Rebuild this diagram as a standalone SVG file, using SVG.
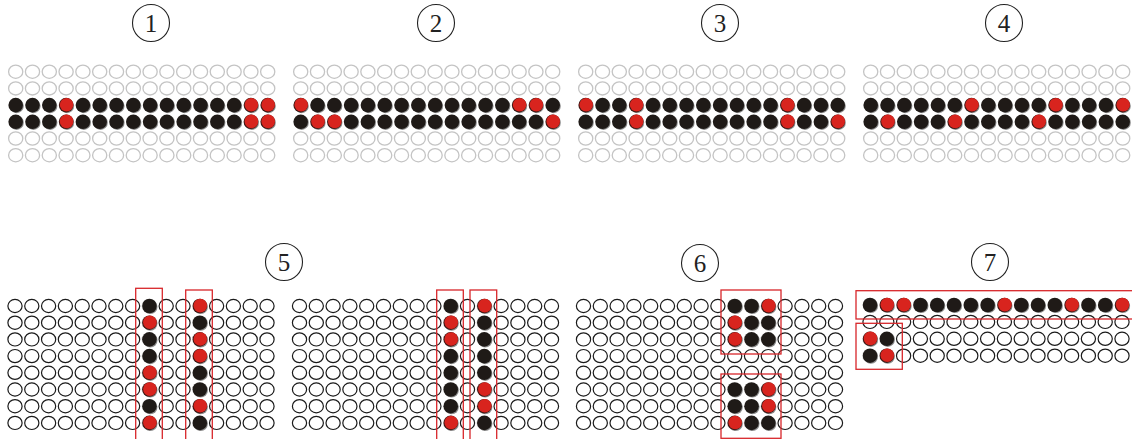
<svg xmlns="http://www.w3.org/2000/svg" xmlns:xlink="http://www.w3.org/1999/xlink" width="1132" height="439" viewBox="0 0 1132 439">
<style>
.ge{fill:none;stroke:#c4c4c4;stroke-width:1.3}
.oe{fill:none;stroke:#1a1a1a;stroke-width:1.2}
.cov{fill:#fff}
.shd{fill:#8c8c8c}
.bk{fill:#1f1a17}
.rd{fill:#d8241e}
.box{fill:none;stroke:#d8262a;stroke-width:1.3}
.num{fill:none;stroke:#222;stroke-width:1.1}
.lbl{font-family:"Liberation Serif","Times New Roman",serif;font-size:25px;fill:#222;text-anchor:middle}
</style>
<defs>
<ellipse id="g" cx="0" cy="0" rx="7.1" ry="6.6" class="ge"/>
<ellipse id="o" cx="0" cy="0" rx="7.1" ry="6.6" class="oe"/>
<g id="B"><circle r="8.1" class="cov"/><circle cx="0.9" cy="0.9" r="7.2" class="shd"/><circle r="7.3" class="bk"/></g>
<g id="R"><circle r="8.1" class="cov"/><circle cx="0.9" cy="0.9" r="7.2" class="shd"/><circle r="7.3" fill="#3a1714"/><circle cx="0.5" cy="-0.4" r="6.8" class="rd"/></g>
<g id="g16"><use href="#g" x="0"/><use href="#g" x="16.8"/><use href="#g" x="33.6"/><use href="#g" x="50.4"/><use href="#g" x="67.2"/><use href="#g" x="84"/><use href="#g" x="100.8"/><use href="#g" x="117.6"/><use href="#g" x="134.4"/><use href="#g" x="151.2"/><use href="#g" x="168"/><use href="#g" x="184.8"/><use href="#g" x="201.6"/><use href="#g" x="218.4"/><use href="#g" x="235.2"/><use href="#g" x="252"/></g>
<g id="o16"><use href="#o" x="0"/><use href="#o" x="16.8"/><use href="#o" x="33.6"/><use href="#o" x="50.4"/><use href="#o" x="67.2"/><use href="#o" x="84"/><use href="#o" x="100.8"/><use href="#o" x="117.6"/><use href="#o" x="134.4"/><use href="#o" x="151.2"/><use href="#o" x="168"/><use href="#o" x="184.8"/><use href="#o" x="201.6"/><use href="#o" x="218.4"/><use href="#o" x="235.2"/><use href="#o" x="252"/></g>
<g id="grid8"><use href="#o16" y="0"/><use href="#o16" y="16.7"/><use href="#o16" y="33.4"/><use href="#o16" y="50.1"/><use href="#o16" y="66.8"/><use href="#o16" y="83.5"/><use href="#o16" y="100.2"/><use href="#o16" y="116.9"/></g>
</defs>
<rect width="1132" height="439" fill="#fff"/>

<g id="label-1"><circle cx="151" cy="23" r="18.5" class="num"/><text x="151" y="31.5" class="lbl">1</text></g>
<g id="label-2"><circle cx="436" cy="23" r="18.5" class="num"/><text x="436" y="31.5" class="lbl">2</text></g>
<g id="label-3"><circle cx="720" cy="23" r="18.5" class="num"/><text x="720" y="31.5" class="lbl">3</text></g>
<g id="label-4"><circle cx="1004" cy="23" r="18.5" class="num"/><text x="1004" y="31.5" class="lbl">4</text></g>
<g id="label-5"><circle cx="284" cy="262" r="18.5" class="num"/><text x="284" y="270.5" class="lbl">5</text></g>
<g id="label-6"><circle cx="700" cy="263" r="18.5" class="num"/><text x="700" y="271.5" class="lbl">6</text></g>
<g id="label-7"><circle cx="990" cy="262" r="18.5" class="num"/><text x="990" y="270.5" class="lbl">7</text></g>

<g id="panel-1" transform="translate(15.7,71.7)">
<use href="#g16" y="0"/><use href="#g16" y="16.7"/><use href="#g16" y="66.8"/><use href="#g16" y="83.5"/>
<g transform="translate(0,33.4)"><use href="#B" x="0"/><use href="#B" x="16.8"/><use href="#B" x="33.6"/><use href="#R" x="50.4"/><use href="#B" x="67.2"/><use href="#B" x="84"/><use href="#B" x="100.8"/><use href="#B" x="117.6"/><use href="#B" x="134.4"/><use href="#B" x="151.2"/><use href="#B" x="168"/><use href="#B" x="184.8"/><use href="#B" x="201.6"/><use href="#B" x="218.4"/><use href="#R" x="235.2"/><use href="#R" x="252"/></g>
<g transform="translate(0,50.1)"><use href="#B" x="0"/><use href="#B" x="16.8"/><use href="#B" x="33.6"/><use href="#R" x="50.4"/><use href="#B" x="67.2"/><use href="#B" x="84"/><use href="#B" x="100.8"/><use href="#B" x="117.6"/><use href="#B" x="134.4"/><use href="#B" x="151.2"/><use href="#B" x="168"/><use href="#B" x="184.8"/><use href="#B" x="201.6"/><use href="#B" x="218.4"/><use href="#R" x="235.2"/><use href="#R" x="252"/></g>
</g>

<g id="panel-2" transform="translate(300.7,71.7)">
<use href="#g16" y="0"/><use href="#g16" y="16.7"/><use href="#g16" y="66.8"/><use href="#g16" y="83.5"/>
<g transform="translate(0,33.4)"><use href="#R" x="0"/><use href="#B" x="16.8"/><use href="#B" x="33.6"/><use href="#B" x="50.4"/><use href="#B" x="67.2"/><use href="#B" x="84"/><use href="#B" x="100.8"/><use href="#B" x="117.6"/><use href="#B" x="134.4"/><use href="#B" x="151.2"/><use href="#B" x="168"/><use href="#B" x="184.8"/><use href="#B" x="201.6"/><use href="#R" x="218.4"/><use href="#R" x="235.2"/><use href="#B" x="252"/></g>
<g transform="translate(0,50.1)"><use href="#B" x="0"/><use href="#R" x="16.8"/><use href="#R" x="33.6"/><use href="#B" x="50.4"/><use href="#B" x="67.2"/><use href="#B" x="84"/><use href="#B" x="100.8"/><use href="#B" x="117.6"/><use href="#B" x="134.4"/><use href="#B" x="151.2"/><use href="#B" x="168"/><use href="#B" x="184.8"/><use href="#B" x="201.6"/><use href="#B" x="218.4"/><use href="#B" x="235.2"/><use href="#R" x="252"/></g>
</g>

<g id="panel-3" transform="translate(585.7,71.7)">
<use href="#g16" y="0"/><use href="#g16" y="16.7"/><use href="#g16" y="66.8"/><use href="#g16" y="83.5"/>
<g transform="translate(0,33.4)"><use href="#R" x="0"/><use href="#B" x="16.8"/><use href="#B" x="33.6"/><use href="#R" x="50.4"/><use href="#B" x="67.2"/><use href="#B" x="84"/><use href="#B" x="100.8"/><use href="#B" x="117.6"/><use href="#B" x="134.4"/><use href="#B" x="151.2"/><use href="#B" x="168"/><use href="#B" x="184.8"/><use href="#R" x="201.6"/><use href="#B" x="218.4"/><use href="#B" x="235.2"/><use href="#B" x="252"/></g>
<g transform="translate(0,50.1)"><use href="#B" x="0"/><use href="#B" x="16.8"/><use href="#B" x="33.6"/><use href="#R" x="50.4"/><use href="#B" x="67.2"/><use href="#B" x="84"/><use href="#B" x="100.8"/><use href="#B" x="117.6"/><use href="#B" x="134.4"/><use href="#B" x="151.2"/><use href="#B" x="168"/><use href="#B" x="184.8"/><use href="#R" x="201.6"/><use href="#B" x="218.4"/><use href="#B" x="235.2"/><use href="#R" x="252"/></g>
</g>

<g id="panel-4" transform="translate(870.7,71.7)">
<use href="#g16" y="0"/><use href="#g16" y="16.7"/><use href="#g16" y="66.8"/><use href="#g16" y="83.5"/>
<g transform="translate(0,33.4)"><use href="#B" x="0"/><use href="#B" x="16.8"/><use href="#B" x="33.6"/><use href="#B" x="50.4"/><use href="#B" x="67.2"/><use href="#B" x="84"/><use href="#R" x="100.8"/><use href="#B" x="117.6"/><use href="#B" x="134.4"/><use href="#B" x="151.2"/><use href="#B" x="168"/><use href="#R" x="184.8"/><use href="#B" x="201.6"/><use href="#B" x="218.4"/><use href="#B" x="235.2"/><use href="#R" x="252"/></g>
<g transform="translate(0,50.1)"><use href="#B" x="0"/><use href="#R" x="16.8"/><use href="#B" x="33.6"/><use href="#B" x="50.4"/><use href="#B" x="67.2"/><use href="#R" x="84"/><use href="#B" x="100.8"/><use href="#B" x="117.6"/><use href="#B" x="134.4"/><use href="#B" x="151.2"/><use href="#R" x="168"/><use href="#B" x="184.8"/><use href="#B" x="201.6"/><use href="#B" x="218.4"/><use href="#B" x="235.2"/><use href="#B" x="252"/></g>
</g>

<g id="panel-5" transform="translate(15,306)">
<use href="#grid8"/>
<g transform="translate(134.4,0)"><use href="#B" y="0"/><use href="#R" y="16.7"/><use href="#B" y="33.4"/><use href="#B" y="50.1"/><use href="#R" y="66.8"/><use href="#R" y="83.5"/><use href="#B" y="100.2"/><use href="#R" y="116.9"/></g>
<g transform="translate(184.8,0)"><use href="#R" y="0"/><use href="#B" y="16.7"/><use href="#R" y="33.4"/><use href="#R" y="50.1"/><use href="#B" y="66.8"/><use href="#B" y="83.5"/><use href="#R" y="100.2"/><use href="#B" y="116.9"/></g>
</g>

<g id="panel-6" transform="translate(299.5,306)">
<use href="#grid8"/>
<g transform="translate(151.2,0)"><use href="#B" y="0"/><use href="#R" y="16.7"/><use href="#R" y="33.4"/><use href="#B" y="50.1"/><use href="#B" y="66.8"/><use href="#B" y="83.5"/><use href="#B" y="100.2"/><use href="#R" y="116.9"/></g>
<g transform="translate(184.8,0)"><use href="#R" y="0"/><use href="#B" y="16.7"/><use href="#B" y="33.4"/><use href="#B" y="50.1"/><use href="#B" y="66.8"/><use href="#R" y="83.5"/><use href="#R" y="100.2"/><use href="#B" y="116.9"/></g>
</g>

<g id="panel-7" transform="translate(583.5,306)">
<use href="#grid8"/>
<g transform="translate(151.2,0)"><use href="#B" x="0" y="0"/><use href="#B" x="16.8" y="0"/><use href="#R" x="33.6" y="0"/><use href="#R" x="0" y="16.7"/><use href="#B" x="16.8" y="16.7"/><use href="#B" x="33.6" y="16.7"/><use href="#R" x="0" y="33.4"/><use href="#B" x="16.8" y="33.4"/><use href="#B" x="33.6" y="33.4"/><use href="#B" x="0" y="83.5"/><use href="#B" x="16.8" y="83.5"/><use href="#R" x="33.6" y="83.5"/><use href="#B" x="0" y="100.2"/><use href="#B" x="16.8" y="100.2"/><use href="#R" x="33.6" y="100.2"/><use href="#R" x="0" y="116.9"/><use href="#B" x="16.8" y="116.9"/><use href="#B" x="33.6" y="116.9"/></g>
</g>

<g id="panel-8" transform="translate(870,305)">
<use href="#o16" y="16.9"/><use href="#o16" y="33.8"/><use href="#o16" y="50.7"/>
<g><use href="#B" x="0"/><use href="#R" x="16.8"/><use href="#R" x="33.6"/><use href="#B" x="50.4"/><use href="#B" x="67.2"/><use href="#B" x="84"/><use href="#B" x="100.8"/><use href="#B" x="117.6"/><use href="#R" x="134.4"/><use href="#B" x="151.2"/><use href="#B" x="168"/><use href="#B" x="184.8"/><use href="#R" x="201.6"/><use href="#B" x="218.4"/><use href="#B" x="235.2"/><use href="#R" x="252"/></g>
<use href="#R" x="0" y="33.8"/><use href="#B" x="16.8" y="33.8"/>
<use href="#B" x="0" y="50.7"/><use href="#R" x="16.8" y="50.7"/>
</g>

<g id="boxes">
<rect x="135.7" y="288.3" width="26.6" height="160" class="box"/>
<rect x="185.7" y="290" width="26.6" height="160" class="box"/>
<rect x="436.7" y="290" width="26.6" height="160" class="box"/>
<rect x="470" y="290" width="26.7" height="160" class="box"/>
<rect x="721" y="290" width="60" height="64" class="box"/>
<rect x="721" y="374" width="60" height="64.3" class="box"/>
<rect x="856" y="290.7" width="290" height="28.3" class="box"/>
<rect x="856" y="323.3" width="46.3" height="46" class="box"/>
</g>
</svg>
